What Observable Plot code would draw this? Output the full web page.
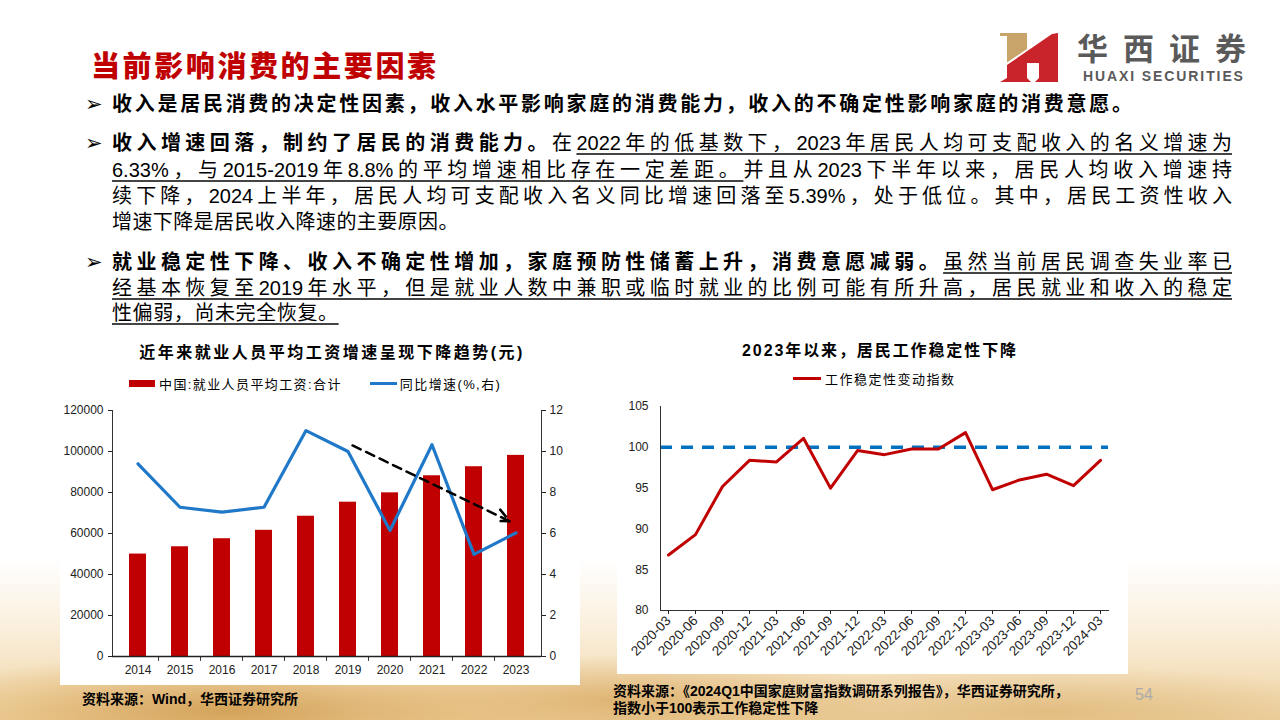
<!DOCTYPE html>
<html><head><meta charset="utf-8">
<script src="https://cdn.jsdelivr.net/npm/d3@7"></script>
<script src="https://cdn.jsdelivr.net/npm/@observablehq/plot@0.6"></script>
<style>
html,body{margin:0;padding:0;background:#fff;}
#page{position:relative;width:1280px;height:720px;overflow:hidden;background:#fff;font-family:"Liberation Sans","Noto Sans CJK SC",sans-serif;color:#000;}
.abs{position:absolute;}
#bg{left:0;top:560px;width:1280px;height:160px;
 background:
  radial-gradient(ellipse 420px 70px at 230px 150px, rgba(205,150,70,0.8), rgba(225,180,110,0.4) 55%, rgba(255,255,255,0) 80%),
  radial-gradient(ellipse 380px 60px at 620px 140px, rgba(215,165,90,0.7), rgba(255,255,255,0) 75%),
  radial-gradient(ellipse 420px 60px at 1050px 150px, rgba(215,170,100,0.55), rgba(255,255,255,0) 75%),
  linear-gradient(to bottom, rgba(255,255,255,1) 0%, rgba(250,238,218,1) 45%, rgba(238,210,160,1) 100%);}
.wbox{background:#fff;}
.title{left:91px;top:50px;font-size:29px;font-weight:900;color:#C00000;letter-spacing:2.6px;line-height:34px;white-space:nowrap;}
.ln{position:absolute;left:112px;font-size:20px;line-height:26px;white-space:nowrap;font-family:"Liberation Sans Narrow","Liberation Sans","Noto Sans CJK SC",sans-serif;}
.j{text-align:justify;text-align-last:justify;white-space:normal;}
.b{font-weight:700;}
.u{text-decoration:underline;text-decoration-color:#444;text-decoration-thickness:1.5px;text-underline-offset:3px;}
.bul{position:absolute;left:85px;font-family:"DejaVu Sans";font-weight:700;font-size:21px;line-height:26px;}
.ctitle{font-size:16px;font-weight:700;white-space:nowrap;text-align:center;}
.leg{font-size:13px;white-space:nowrap;display:flex;align-items:center;}
.src{font-size:14px;font-weight:700;white-space:nowrap;line-height:17px;}
</style></head>
<body>
<div id="page">
  <div id="bg" class="abs"></div>
  <div class="abs wbox" style="left:60px;top:395px;width:520px;height:290px;"></div>
  <div class="abs wbox" style="left:617px;top:392px;width:511px;height:282px;"></div>

  <div class="abs title">当前影响消费的主要因素</div>

  <svg class="abs" style="left:1000px;top:33px" width="60" height="50" viewBox="0 0 60 50">
    <polygon points="0,0 27,0 27,16 7,29.5 7,3 0,3" fill="#C8A46A"/>
    <polygon points="7,32 52,1 58,0 58,49 35,49 39,45 39,30 27,30 27,45 31,49 0,49 7,45" fill="#C9242B"/>
  </svg>
  <div class="abs" style="left:1077px;top:34px;font-size:31px;font-weight:700;color:#5a5a5a;letter-spacing:15px;line-height:32px;white-space:nowrap;">华西证券</div>
  <div class="abs" style="left:1083px;top:69px;font-size:14px;font-weight:600;color:#5a5a5a;font-family:'Liberation Sans';letter-spacing:1.9px;white-space:nowrap;line-height:14px;">HUAXI SECURITIES</div>

  <div class="bul" style="top:91px">➢</div>
  <div class="ln j b" style="top:91px;width:1020px;">收入是居民消费的决定性因素，收入水平影响家庭的消费能力，收入的不确定性影响家庭的消费意愿。</div>

  <div class="bul" style="top:130px">➢</div>
  <div class="ln j" style="top:130px;width:1120px;"><span class="b">收入增速回落，制约了居民的消费能力。</span>在<span class="u">2022年的低基数下，2023年居民人均可支配收入的名义增速为</span></div>
  <div class="ln j" style="top:157px;width:1120px;"><span class="u">6.33%，与2015-2019年8.8%的平均增速相比存在一定差距。</span>并且从2023下半年以来，居民人均收入增速持</div>
  <div class="ln j" style="top:183px;width:1120px;">续下降，2024上半年，居民人均可支配收入名义同比增速回落至5.39%，处于低位。其中，居民工资性收入</div>
  <div class="ln" style="top:209px;letter-spacing:0.4px;">增速下降是居民收入降速的主要原因。</div>

  <div class="bul" style="top:249px">➢</div>
  <div class="ln j" style="top:249px;width:1120px;"><span class="b">就业稳定性下降、收入不确定性增加，家庭预防性储蓄上升，消费意愿减弱。</span><span class="u">虽然当前居民调查失业率已</span></div>
  <div class="ln j u" style="top:275px;width:1120px;">经基本恢复至2019年水平，但是就业人数中兼职或临时就业的比例可能有所升高，居民就业和收入的稳定</div>
  <div class="ln u" style="top:300px;letter-spacing:0.6px;">性偏弱，尚未完全恢复。</div>

  <div class="abs ctitle" style="left:132px;top:339px;width:400px;letter-spacing:2.5px;">近年来就业人员平均工资增速呈现下降趋势(元)</div>
  <div class="abs leg" style="left:129px;top:374px;letter-spacing:1.4px;">
    <span style="display:inline-block;width:26px;height:7px;background:#C00000;margin-right:4px;"></span>中国:就业人员平均工资:合计
    <span style="display:inline-block;width:27px;height:3px;background:#1F78C8;margin-left:28px;margin-right:3px;"></span>同比增速(%,右)
  </div>
  <div id="left" class="abs" style="left:60px;top:400px;"></div>

  <div class="abs ctitle" style="left:700px;top:337px;width:360px;letter-spacing:1.9px;">2023年以来，居民工作稳定性下降</div>
  <div class="abs leg" style="left:793px;top:369px;letter-spacing:1.5px;">
    <span style="display:inline-block;width:28px;height:3px;background:#C00000;margin-right:4px;"></span>工作稳定性变动指数
  </div>
  <div id="right" class="abs" style="left:617px;top:395px;"></div>

  <div class="abs src" style="left:82px;top:691px;">资料来源：Wind，华西证券研究所</div>
  <div class="abs src" style="left:613px;top:683px;">资料来源：《2024Q1中国家庭财富指数调研系列报告》，华西证券研究所，</div>
  <div class="abs src" style="left:613px;top:700px;">指数小于100表示工作稳定性下降</div>
  <div class="abs" style="left:1135px;top:686px;font-size:16px;color:#aaa;font-family:'Liberation Sans Narrow','Liberation Sans';">54</div>
</div>

<script>
// ---------- Left chart data ----------
const years = ["2014","2015","2016","2017","2018","2019","2020","2021","2022","2023"];
const wages = [49970, 53530, 57450, 61560, 68420, 75280, 79840, 88160, 92570, 98110];
const growth = [9.40, 7.28, 7.04, 7.28, 11.02, 10.00, 6.15, 10.33, 4.98, 6.03];
const wageTicks = [0, 20000, 40000, 60000, 80000, 100000, 120000];
const growthTicks = [0, 2, 4, 6, 8, 10, 12];
const trendStart = ["2019", 10.4];
const trendEnd = ["2023", 6.45];

// ---------- Right chart data ----------
const quarters = ["2020-03","2020-06","2020-09","2020-12","2021-03","2021-06","2021-09","2021-12",
  "2022-03","2022-06","2022-09","2022-12","2023-03","2023-06","2023-09","2023-12","2024-03"];
const stability = [86.8, 89.3, 95.2, 98.4, 98.2, 101.1, 95.0, 99.6, 99.1, 99.8, 99.8, 101.8, 94.8, 96.0, 96.7, 95.3, 98.4];
const stabilityTicks = [80, 85, 90, 95, 100, 105];
const baseline = 100;

const RATIO = 10000; // right axis (%) mapped onto left axis (元)

const wageRows = years.map((y, i) => ({year: y, wage: wages[i]}));
const growthRows = years.map((y, i) => ({year: y, g: growth[i] * RATIO}));

const LW = 530, LML = 52, LMR = 49;
const halfStep = (LW - LML - LMR) / years.length / 2;

const left = Plot.plot({
  width: LW, height: 285,
  marginLeft: LML, marginRight: LMR, marginTop: 10, marginBottom: 29,
  style: {fontFamily: "'Liberation Sans', Arial, sans-serif", fontSize: "12px", color: "#222", background: "transparent"},
  x: {type: "band", domain: years, paddingInner: 0.59, paddingOuter: 0.295},
  y: {type: "linear", domain: [0, 120000]},
  marks: [
    Plot.barY(wageRows, {x: "year", y: "wage", fill: "#C00000"}),
    Plot.line(growthRows, {x: "year", y: "g", stroke: "#1F78C8", strokeWidth: 3.2}),
    Plot.arrow([{x1: trendStart[0], y1: trendStart[1] * RATIO, x2: trendEnd[0], y2: trendEnd[1] * RATIO}],
      {x1: "x1", y1: "y1", x2: "x2", y2: "y2", stroke: "#000", strokeWidth: 2.5, strokeDasharray: "9,6",
       insetStart: 5, insetEnd: 7, headLength: 9, headAngle: 50}),
    Plot.frame({anchor: "left", stroke: "#333"}),
    Plot.frame({anchor: "right", stroke: "#333"}),
    Plot.ruleX(years.slice(1), {x: d => d, dx: -halfStep, y1: 0, y2: -2400, stroke: "#333"}),
    Plot.ruleY([0], {stroke: "#222", strokeWidth: 1.5}),
    Plot.axisY({anchor: "left", ticks: wageTicks, tickFormat: d => String(d), tickSize: 4, tickPadding: 5, label: null}),
    Plot.axisY({anchor: "right", ticks: growthTicks.map(v => v * RATIO), tickFormat: d => String(d / RATIO), tickSize: 4, tickPadding: 4, label: null}),
    Plot.axisX({tickSize: 0, tickPadding: 9, label: null})
  ]
});
document.getElementById("left").appendChild(left);

const stabRows = quarters.map((q, i) => ({q, v: stability[i]}));
const right = Plot.plot({
  width: 511, height: 275,
  marginLeft: 43, marginRight: 20, marginTop: 11, marginBottom: 60,
  style: {fontFamily: "'Liberation Sans', Arial, sans-serif", fontSize: "12px", color: "#222", background: "transparent"},
  x: {type: "point", domain: quarters, padding: 0.15},
  y: {domain: [80, 105]},
  marks: [
    Plot.ruleY([baseline], {stroke: "#0070C0", strokeWidth: 3.5, strokeDasharray: "12,9"}),
    Plot.line(stabRows, {x: "q", y: "v", stroke: "#C00000", strokeWidth: 3}),
    Plot.frame({anchor: "left", stroke: "#333"}),
    Plot.frame({anchor: "bottom", stroke: "#333"}),
    Plot.axisY({ticks: stabilityTicks, tickSize: 0, tickPadding: 12, label: null}),
    Plot.axisX({tickRotate: -45, tickSize: 4, tickPadding: 4, fontSize: 13.5, label: null})
  ]
});
document.getElementById("right").appendChild(right);
</script>
</body></html>
